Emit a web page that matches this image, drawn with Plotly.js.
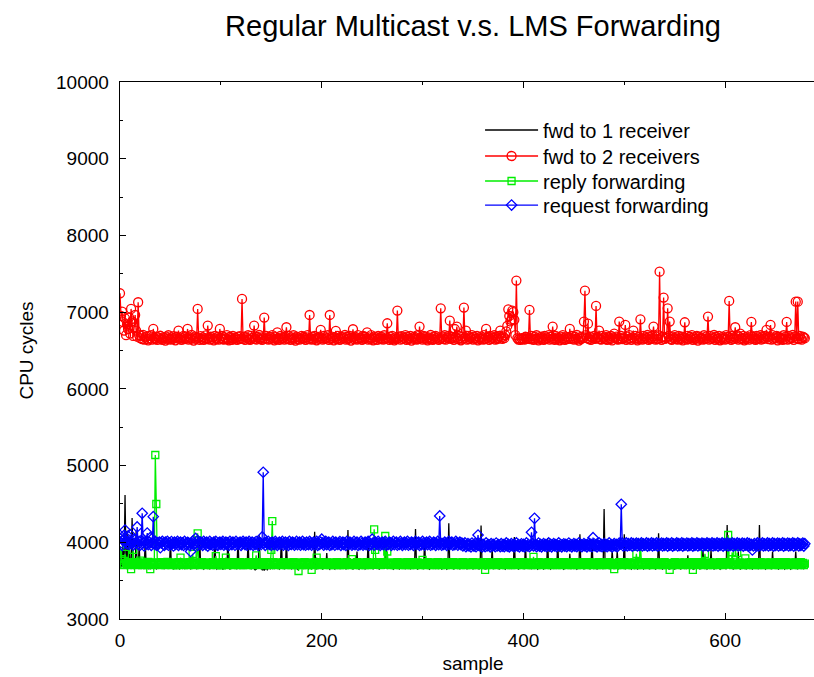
<!DOCTYPE html>
<html><head><meta charset="utf-8">
<script src="https://cdn.plot.ly/plotly-3.0.1.min.js"></script>
<style>html,body{margin:0;padding:0;overflow:hidden;background:#fff}#chart{width:826px;height:677px}</style>
</head><body><div id="chart"></div>
<script>
const seriesNames = ["fwd to 1 receiver", "fwd to 2 receivers", "reply forwarding", "request forwarding"];

const fwd1 = [
3950,3700,3680,4000,3670,4617,3690,4150,3660,3990,3700,3680,4317,3670,3690,3660,4150,3680,3670,3950,
3680,3662,3691,3674,3652,4030,3683,3671,3658,3688,3651,3679,3668,3660,3689,3677,3653,3672,3661,3684,
3690,3663,3671,3680,3652,3668,3692,3659,3681,3670,4030,3664,3682,3650,3673,3688,3661,3679,3669,3654,
3681,3672,3660,3690,3652,3678,3667,3661,3688,3679,3650,3671,3662,3683,3689,3670,3651,3682,3659,4073,
3671,3683,3660,3652,3688,3669,3681,3661,3672,3650,3679,3690,3662,3671,4073,3680,3652,3668,3661,3689,
3682,3670,3651,3662,3690,3679,3671,4069,3660,3652,3680,3668,3689,3661,3681,3672,3650,4060,3679,3660,
3669,3688,3652,3680,3661,3672,3678,4030,3659,3690,3651,3670,3682,3658,3641,3649,3668,3660,4090,3679,
3648,3640,3661,3632,3652,3668,3643,3661,3679,3650,3671,3660,3688,3651,3680,3669,3661,3679,3652,3671,
4069,3662,3680,3651,3670,4030,3688,3661,3682,3669,3652,3660,3690,3679,3671,3662,3650,3681,3668,3689,
3660,3681,3652,3671,3661,3690,3679,3652,3670,3661,3682,3688,3660,4138,3671,3650,3679,3662,3689,3670,
3681,3652,3660,3691,3669,3860,3680,3661,3650,3688,3671,3679,3660,3652,3690,3669,3661,3680,3651,3672,
3689,3660,3681,3670,3652,3661,4160,3690,3679,3671,3660,3652,3681,3688,3670,3880,3661,3650,3680,3669,
3662,3688,3681,3652,3670,3661,4030,3679,3690,3662,3671,3650,3680,3660,3689,3670,3681,3651,3662,3672,
3690,3679,3660,3671,4030,3652,3681,3689,3661,3670,3679,3650,3662,3690,3671,3680,3659,3652,3670,3688,
3681,3662,3670,3651,3690,3679,3660,3672,3650,3681,3689,3661,3670,4173,3680,3652,3661,3688,3671,3679,
3660,3651,4030,3690,3670,3681,3662,3650,3671,3688,3679,3661,3672,3652,3680,3690,3659,3670,3681,3651,
3662,3689,3671,3680,3650,3661,4248,3669,3690,3679,3660,3652,3671,3682,3688,3661,3670,3650,3681,3660,
3690,3671,3679,3661,3652,3670,3688,3681,3660,3672,3650,3679,3691,3660,3670,3681,3651,3662,4217,3689,
3671,3680,3661,3652,3670,3688,3679,3660,3672,3925,3651,3681,3690,3660,3671,3679,3652,3661,3689,3670,
3681,3660,3650,3671,3690,3679,3661,3670,3652,3682,3688,4069,3660,3671,3680,3651,3662,3690,3669,3681,
3660,3652,3990,3671,3689,3680,3661,3670,3651,3682,3690,3660,3671,3679,3650,3662,3688,3671,3681,3660,
3651,3670,3690,3680,4056,3661,3672,3650,3679,3689,3661,3670,3682,3652,4030,3660,3690,3671,3679,3662,
3650,3671,3688,3681,3660,3670,3850,3651,3680,3690,3661,3672,3679,3650,3662,3689,4104,3670,3681,3660,
3652,3671,3690,3679,3661,3670,3650,3682,4030,3688,3660,3671,3680,3652,3661,3690,3669,3681,3660,3651,
4434,3671,3689,3680,3662,3670,3651,3679,3890,3690,3661,3670,3682,3890,3652,3660,3688,3671,3680,3661,
4104,3650,3672,3690,3679,3661,3670,3652,3681,3689,3660,3671,3680,3651,3662,3690,3670,3679,3661,3652,
3671,3688,3680,3660,3672,3650,3681,3690,3661,3670,3679,3652,3660,3689,4117,3671,3680,3662,3651,3670,
3690,3679,3661,3672,3650,3681,3688,3660,3671,3680,3652,3661,3690,3670,3679,3662,3651,3672,3688,3680,
3661,3670,3652,3830,3681,3689,3660,3671,3679,3650,3662,3690,3670,3681,3661,3652,3671,3688,3900,3679,
3660,3672,3651,3680,3690,3661,3900,3670,3681,3652,3660,3689,3671,3679,3662,3650,3670,3690,3681,3661,
3672,3650,4226,3679,3688,3661,3670,3682,3651,3660,3690,3671,3679,3880,3662,3652,3670,3689,3681,3660,
3671,3650,3680,3690,3661,3670,3679,3652,3662,3688,3671,3681,3660,3650,4226,3672,3690,3679,3661,3670,
3652,3681,3689,3660,3672,3679,3650,3880,3661,3690,3670,3681,3662,3651,3671,3688,3680,3660,3670,3652,
3681,3690,3661,3671,3679,3650,3662,3688,3670,3681,3880,3660,3652,3671,3690,3679,3661,3670,3651,3680
];

const fwd2 = [
7246,6950,7007,6870,6760,6920,6700,6840,6780,6930,6720,7042,6880,6690,6800,6963,6760,6680,7129,6700,
6661,6692,6648,6703,6641,6672,6683,6652,6631,6690,6659,6701,6642,6781,6662,6649,6681,6638,6671,6658,
6692,6651,6640,6673,6661,6629,6682,6652,6699,6660,6641,6672,6649,6688,6662,6632,6679,6658,6759,6651,
6672,6639,6661,6690,6648,6681,6660,6781,6642,6671,6652,6702,6661,6630,6682,6651,6669,7042,6662,6640,
6688,6652,6671,6639,6660,6698,6649,6825,6662,6641,6679,6651,6672,6631,6690,6659,6648,6682,6642,6781,
6661,6689,6650,6641,6671,6659,6700,6648,6632,6679,6662,6640,6691,6652,6670,6661,6639,6681,6649,6688,
6659,7172,6651,6682,6640,6671,6662,6699,6648,6639,6690,6660,6672,6825,6651,6641,6679,6660,6702,6649,
6671,6638,6660,6929,6652,6690,6661,6641,6680,6648,6672,6701,6659,6631,6681,6650,6737,6662,6640,6689,
6651,6672,6659,6641,6681,6803,6649,6690,6661,6639,6671,6652,6699,6660,6629,6682,6648,6671,6641,6661,
6690,6652,6679,6660,6640,6672,6701,6649,6963,6661,6641,6681,6650,6689,6662,6632,6670,6651,6680,6768,
6659,6641,6690,6652,6671,6661,6699,6640,6963,6651,6682,6659,6631,6672,6755,6649,6691,6660,6639,6681,
6652,6670,6661,6702,6641,6679,6650,6662,6690,6630,6671,6777,6649,6681,6660,6642,6700,6651,6669,6662,
6640,6690,6652,6679,6661,6737,6641,6671,6649,6701,6660,6632,6680,6651,6672,6639,6689,6661,6650,6682,
6659,6641,6699,6652,6670,6855,6662,6639,6681,6650,6690,6659,6631,6672,6649,7020,6661,6680,6641,6688,
6651,6671,6660,6701,6640,6682,6649,6661,6690,6629,6672,6651,6679,6660,6642,6699,6650,6812,6661,6670,
6641,6689,6652,6681,6659,6631,6670,6650,6702,6661,6640,6680,6649,6691,6660,6671,6639,6652,7050,6661,
6681,6649,6699,6641,6672,6660,6690,6889,6651,6679,6662,6640,6780,6671,6812,6650,6691,6659,6632,6681,
6652,7059,6661,6759,6641,6689,6650,6672,6660,6700,6642,6680,6651,6661,6690,6631,6671,6649,6682,6660,
6641,6701,6649,6781,6661,6679,6640,6690,6652,6671,6660,6699,6641,6681,6650,6662,6689,6759,6670,6651,
6680,6661,6700,6750,6820,7037,6950,6880,6900,7020,7000,6900,6700,7411,6660,6642,6655,6638,6661,6648,
6660,6641,6679,6652,6671,6661,7029,6649,6690,6659,6640,6681,6652,6699,6661,6631,6672,6650,6680,6662,
6639,6691,6650,6671,6660,6701,6641,6679,6652,6812,6661,6640,6689,6650,6672,6659,6632,6681,6651,6700,
6661,6640,6682,6649,6671,6660,6781,6651,6690,6659,6641,6679,6652,6702,6660,6630,6671,6649,6681,6661,
6877,7280,6700,6661,6850,6650,6681,6640,6671,6659,6690,6651,7081,6662,6679,6759,6649,6641,6691,6660,
6671,6649,6701,6640,6682,6661,6650,6689,6631,6672,6720,6659,6681,6650,6641,6877,6662,6690,6649,6671,
6660,6833,6639,6681,6651,6700,6661,6640,6670,6759,6651,6691,6659,6631,6679,6650,6907,6662,6641,6689,
6652,6671,6660,6702,6640,6680,6649,6661,6690,6812,6659,6641,6681,6650,6699,7528,6661,6640,6679,7190,
6651,6670,6660,7050,6689,6877,6652,6640,6682,6661,6700,6649,6671,6641,6690,6659,6650,6681,6631,6672,
6868,6660,6641,6691,6650,6679,6661,6701,6640,6672,6652,6659,6689,6630,6681,6651,6670,6662,6641,6699,
6650,6681,6659,6942,6641,6690,6651,6672,6660,6702,6639,6679,6652,6661,6691,6632,6670,6649,6682,6660,
6641,6700,6652,6679,7146,6661,6640,6689,6651,6671,6803,6659,6699,6642,6681,6720,6650,6662,6690,6631,
6671,6649,6681,6660,6641,6701,6872,6652,6679,6661,6640,6690,6650,6672,6659,6699,6642,6682,6651,6661,
6689,6768,6671,6649,6680,6833,6641,6701,6652,6670,6660,6691,6631,6679,6651,6672,6659,6640,6699,6650,
6681,6872,6641,6690,6652,6671,6660,6702,6639,6680,7137,6661,7137,6650,6689,6659,6641,6681,6670,6660
];

const reply = [
3950,3762,3780,3721,3703,3850,3731,3712,3741,3719,3702,3650,3729,3900,3711,3742,3718,3701,3733,3709,
3760,3722,3704,3739,3712,3728,3719,3701,3743,3708,3650,3731,3717,3703,3738,5138,4499,3722,3709,3732,
3701,3741,3718,3712,3729,3702,3721,3744,3708,3731,3719,3703,3739,3711,3728,3722,3699,3713,3742,3720,
3800,3729,3712,3703,3738,3721,3731,3709,3702,3741,3718,3733,3850,3711,3701,3739,3722,4117,3728,3712,
3703,3742,3719,3731,3708,3701,3738,3722,3729,3713,3702,3718,3741,3709,3732,3820,3703,3739,3721,3728,
3711,3699,3741,3719,3733,3800,3708,3702,3738,3722,3731,3712,3701,3742,3718,3729,3710,3703,3721,3740,
3712,3731,3702,3739,3719,3728,3709,3701,3742,3721,3732,3711,3703,3718,3741,3830,3709,3729,3702,3738,
3722,3731,3708,3701,3740,3719,3733,3712,3703,3721,3900,4277,3742,3709,3729,3702,3718,3739,3711,3731,
3701,3722,3741,3709,3728,3703,3719,3738,3712,3731,3702,3721,3742,3708,3729,3701,3718,3626,3739,3712,
3732,3703,3719,3741,3709,3728,3701,3722,3738,3711,3640,3731,3702,3719,3742,3800,3708,3729,3703,3721,
3741,3712,3728,3701,3719,3739,3709,3732,3702,3722,3738,3711,3729,3703,3718,3742,3709,3731,3701,3721,
3739,3712,3728,3702,3719,3741,3708,3731,3703,3722,3780,3711,3729,3701,3718,3740,3712,3732,3702,3721,
3738,3709,3731,3703,3722,3742,3711,3728,3701,3719,3739,3712,4169,3900,3721,3741,3708,3729,3702,3719,
3742,3711,3731,4082,3722,3880,3709,3728,3701,3721,3738,3712,3731,3702,3719,3741,3709,3729,3703,3722,
3739,3711,3732,3701,3718,3742,3712,3729,3702,3721,3740,3709,3731,3703,3719,3738,3711,3728,3701,3722,
3770,3712,3731,3702,3719,3741,3708,3729,3703,3721,3739,3711,3732,3701,3718,3742,3712,3728,3702,3722,
3738,3709,3731,3703,3719,3741,3711,3729,3701,3721,3740,3712,3732,3702,3718,3739,3708,3731,3703,3722,
3742,3711,3728,3701,3719,3738,3712,3731,3702,3721,3741,3709,3729,3703,3718,3739,3711,3732,3701,3722,
3740,3712,3640,3702,3719,3742,3709,3731,3703,3721,3738,3711,3728,3701,3718,3741,3712,3732,3702,3722,
3739,3709,3729,3703,3719,3742,3711,3731,3701,3721,3738,3712,3728,3702,3718,3740,3709,3731,3703,3722,
3741,3711,3732,3701,3719,3739,3712,3729,3702,3721,3810,3709,3731,3703,3718,3742,3711,3728,3701,3722,
3738,3712,3731,3702,3719,3741,3709,3729,3703,3721,3739,3711,3732,3701,3718,3742,3712,3728,3702,3722,
3740,3709,3731,3703,3719,3738,3711,3729,3701,3721,3741,3712,3732,3702,3718,3739,3709,3731,3703,3722,
3742,3711,3728,3701,3719,3740,3712,3731,3702,3721,3738,3709,3729,3703,3718,3741,3711,3732,3701,3722,
3739,3712,3728,3702,3719,3742,3709,3731,3703,3721,3650,3711,3729,3701,3718,3740,3712,3732,3702,3722,
3741,3709,3731,3703,3719,3738,3711,3728,3701,3721,3739,3712,3850,3702,3718,3742,3990,3729,3703,3722,
3740,3711,3732,3701,3719,3741,3712,3729,3702,3721,3738,3709,3731,3703,3718,3739,3711,3728,3701,3722,
3742,3712,3731,3702,3719,3640,3709,3729,3703,3721,3741,3711,3732,3701,3718,3738,3712,3728,3702,3722,
3739,3709,3731,3703,3719,3742,3711,3729,3640,3721,3740,3712,3732,3702,3718,3741,3709,3731,3703,3722,
3850,3711,3728,3701,3719,3738,3712,3731,3702,3721,3739,3709,3729,3703,3718,3742,3711,3732,3701,3722,
3740,3712,3728,4095,3719,3741,3709,3870,3703,3721,3738,3711,3860,3701,3718,3739,3712,3731,3702,3722,
3790,3709,3729,3703,3719,3742,3711,3732,3701,3721,3740,3712,3728,3702,3718,3741,3709,3731,3703,3722,
3738,3711,3729,3701,3719,3739,3712,3732,3702,3721,3742,3709,3728,3703,3718,3740,3711,3731,3701,3722,
3741,3712,3729,3702,3719,3738,3709,3731,3703,3721,3739,3711,3728,3701,3718,3742,3712,3732,3702,3722
];

const request = [
4050,3992,3961,4031,4090,4160,4021,3980,4080,3972,4100,4012,3990,3962,4041,3981,4003,4200,3970,4011,
3963,4022,4378,3991,3952,4010,3982,4120,3971,4001,4060,3961,3992,4334,3980,4012,3962,3991,3973,4002,
3930,3991,4012,3972,3960,4001,3982,4011,3962,3990,3971,4010,3981,3952,4001,3972,3991,4011,3961,3982,
4002,3971,3992,3960,4011,3981,3972,4000,3991,3962,3880,3990,4012,3971,3982,4050,4011,3961,3991,3972,
4001,3982,3961,4012,3991,3970,4002,3951,3981,4011,3972,3990,3962,4001,3980,4012,3971,3961,3992,4002,
3972,3991,4011,3962,3980,4002,3971,3992,3960,4012,3981,3970,4001,3991,3962,4011,3980,3972,3990,4001,
3961,3982,4012,3990,3971,4002,3962,3991,4011,3970,3981,4001,3961,3992,3972,4010,3982,3960,4002,3991,
3972,4070,4913,3991,3961,4001,3981,4012,3972,3990,3962,4002,3980,3971,4011,3992,3961,3981,4002,3972,
3990,4011,3962,3982,4001,3971,3992,3961,4012,3980,3972,4002,3991,3962,3981,4011,3970,3992,4001,3962,
3981,4012,3971,3990,3962,4002,3980,3971,4011,3991,3962,3982,4001,3970,3992,4011,3961,3980,3972,4002,
4040,3991,3962,3981,4012,3970,3992,4001,3961,3982,3971,4011,3990,3962,4002,3981,3972,3991,4010,3961,
3982,4001,3971,3992,3960,4012,3981,3972,4002,3990,3962,3980,4011,3971,3992,4001,3961,3982,3970,4012,
3990,3962,3981,4002,3971,3992,4011,3960,3982,3971,4040,3991,3962,4001,3980,3972,4012,3990,3961,3982,
4001,3971,3992,4011,3962,3980,3972,4002,3991,3961,3982,4012,3970,3991,4001,3962,3981,3972,4011,3990,
3961,3982,4002,3971,3990,4012,3962,3981,3972,4001,3991,3960,3982,4011,3972,3990,4002,3961,3981,3971,
4012,3990,3962,3982,4001,3971,3991,4011,3962,3980,3972,4002,3991,3961,3982,4012,3970,4343,3990,3962,
3981,3972,4002,3990,3961,3982,4011,3971,3992,4001,3962,3980,3971,4012,3991,3962,3981,4002,3970,3990,
3952,3971,3992,3942,3961,3981,3952,3972,3941,3990,3962,3951,3982,3942,3971,4095,3960,3952,3981,3941,
3972,3961,3942,3991,3952,3971,3962,3941,3982,3951,3972,3961,3942,3990,3952,3971,3960,3942,3981,3951,
3970,3942,3962,3991,3951,3972,3941,3961,3982,3952,3971,3942,3960,3991,3952,3971,3941,3962,3980,3951,
3972,3941,3961,3992,3952,3970,3942,3961,4130,3981,3952,4312,3971,3942,3961,3990,3951,3972,3941,3962,
3981,3952,3971,3942,3960,3991,3951,3972,3941,3962,3982,3952,3970,3942,3961,3992,3951,3971,3941,3962,
3980,3951,3972,3942,3961,3990,3952,3971,3941,3960,3982,3951,3972,3942,3961,3991,3952,3970,3942,3961,
3981,3952,3971,3941,3962,3990,3951,3972,3942,4060,3980,3952,3971,3941,3962,3991,3951,3972,3942,3960,
3982,3951,3971,3942,3961,3992,3952,3970,3941,3962,3981,3952,3972,3942,3960,3990,3980,4495,3991,3952,
3972,3961,3991,3952,3982,3962,3971,3992,3951,3981,3962,3972,3990,3952,3982,3961,3971,3991,3952,3980,
3962,3971,3992,3951,3982,3960,3972,3991,3952,3981,3962,3970,3992,3951,3982,3961,3972,3990,3952,3981,
3961,3972,3991,3950,3982,3962,3971,3992,3951,3980,3962,3972,3991,3952,3981,3961,3970,3992,3951,3982,
3962,3971,3990,3952,3981,3961,3972,3992,3951,3982,3960,3971,3991,3952,3981,3962,3972,3990,3951,3982,
3961,3972,3992,3950,3981,3962,3971,3991,3952,3982,3961,3970,3992,3951,3981,3962,3972,3991,3950,3982,
3962,3971,3991,3952,3980,3961,3972,3992,3951,3981,3962,3970,3991,3952,3982,3961,3972,3990,3951,3981,
3962,3971,3992,3951,3982,3960,3972,3900,3952,3981,3962,3971,3992,3950,3982,3961,3972,3991,3952,3980,
3961,3972,3991,3952,3981,3962,3970,3992,3951,3982,3961,3972,3990,3952,3981,3962,3971,3992,3951,3982,
3962,3971,3990,3952,3981,3961,3972,3992,3950,3982,3962,3971,3991,3952,3980,3961,3972,3990,3951,3982
];

const xTicks = [0, 200, 400, 600];
const yTicks = [3000, 4000, 5000, 6000, 7000, 8000, 9000, 10000];

function idx(arr){ return arr.map((_, i) => i); }

const font = "Liberation Sans, Arial, Helvetica, sans-serif";
const traces = [
  {x: idx(fwd1), y: fwd1, name: seriesNames[0], type: "scatter", mode: "lines", legend: "legend",
   line: {color: "#000000", width: 1.3}},
  {x: idx(fwd2), y: fwd2, name: seriesNames[1], type: "scatter", mode: "lines+markers", legend: "legend2",
   line: {color: "#ff0000", width: 1.3},
   marker: {symbol: "circle-open", size: 9, color: "#ff0000", line: {width: 1.3}}},
  {x: idx(reply), y: reply, name: seriesNames[2], type: "scatter", mode: "lines+markers", legend: "legend3",
   line: {color: "#00ee00", width: 1.3},
   marker: {symbol: "square-open", size: 7, color: "#00ee00", line: {width: 1.3}}},
  {x: idx(request), y: request, name: seriesNames[3], type: "scatter", mode: "lines+markers", legend: "legend4",
   line: {color: "#0000ff", width: 1.3},
   marker: {symbol: "diamond-open", size: 8, color: "#0000ff", line: {width: 1.3}}}
];

function leg(yc){
  return {x: 0.51, y: yc, xanchor: "left", yanchor: "middle", bgcolor: "rgba(0,0,0,0)",
          font: {family: font, size: 20, color: "#000"}, itemwidth: 53};
}

const layout = {
  width: 826, height: 677,
  margin: {l: 120, r: 0, t: 82, b: 58},
  paper_bgcolor: "#ffffff", plot_bgcolor: "#ffffff",
  font: {family: font, size: 19, color: "#000"},
  title: {text: "Regular Multicast v.s. LMS Forwarding", font: {family: font, size: 29, color: "#000"},
          xref: "paper", x: 0.5, xanchor: "center", yref: "container", y: 0.962, yanchor: "middle"},
  showlegend: true,
  legend: leg(0.9106),
  legend2: leg(0.8622),
  legend3: leg(0.8156),
  legend4: leg(0.7709),
  xaxis: {range: [0, 700], tickvals: xTicks, ticktext: xTicks.map(String),
          ticks: "inside", ticklen: 6, tickcolor: "#000", tickwidth: 1,
          minor: {dtick: 100, tick0: 0, ticks: "inside", ticklen: 3, tickcolor: "#000", showgrid: false},
          showline: true, linecolor: "#000", linewidth: 1.3, mirror: "ticks",
          showgrid: false, zeroline: false, ticklabelstandoff: 4,
          title: {text: "sample", font: {family: font, size: 19}, standoff: 6}},
  yaxis: {range: [3000, 10000], tickvals: yTicks, ticktext: yTicks.map(String),
          ticks: "inside", ticklen: 6, tickcolor: "#000", tickwidth: 1,
          minor: {dtick: 500, tick0: 0, ticks: "inside", ticklen: 3, tickcolor: "#000", showgrid: false},
          showline: true, linecolor: "#000", linewidth: 1.3, mirror: "ticks",
          showgrid: false, zeroline: false, ticklabelstandoff: 6,
          title: {text: "CPU cycles", font: {family: font, size: 19}, standoff: 17}}
};

Plotly.newPlot("chart", traces, layout, {displayModeBar: false, staticPlot: true});
</script>
</body></html>
